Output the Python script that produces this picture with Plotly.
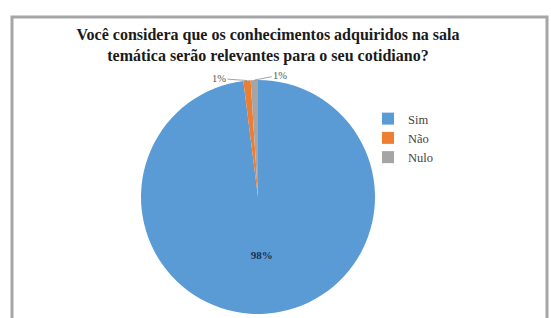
import math
import plotly.graph_objects as go

labels = ["Sim", "Não", "Nulo"]
values = [98, 1, 1]
colors = ["#5B9BD5", "#ED7D31", "#A5A5A5"]

W, H = 551, 318
SERIF = "Liberation Serif, Times New Roman, serif"

# pie geometry (pixels from top-left)
cx, cy, r = 258, 197, 117

fig = go.Figure(go.Pie(
    labels=labels,
    values=values,
    sort=False,
    direction="clockwise",
    rotation=0,
    marker=dict(colors=colors, line=dict(width=0)),
    texttemplate=["<b>%{percent:.0%}</b>", "", ""],
    textposition=["inside", "none", "none"],
    insidetextorientation="horizontal",
    insidetextfont=dict(family=SERIF, size=11, color="#1c2f4d"),
    domain=dict(x=[(cx - r) / W, (cx + r) / W], y=[(H - cy - r) / H, (H - cy + r) / H]),
    hoverinfo="label+percent",
))

# outside labels with leader lines for the small slices
total = sum(values)
cum = 0
offsets = {1: (-28, -2), 2: (26, -5)}
annotations = []
for i, v in enumerate(values):
    mid = (cum + v / 2) / total * 2 * math.pi
    cum += v
    if i in offsets:
        px = cx + r * math.sin(mid)
        py = cy - r * math.cos(mid)
        ax, ay = offsets[i]
        annotations.append(dict(
            x=px / W, y=1 - py / H, xref="paper", yref="paper",
            text=f"{round(v / total * 100)}%",
            showarrow=True, arrowhead=0, arrowwidth=0.8, arrowcolor="#8c8c8c",
            ax=ax, ay=ay, standoff=0,
            font=dict(family=SERIF, size=10.5, color="#555555"),
        ))

fig.update_layout(
    width=W, height=H,
    margin=dict(l=0, r=0, t=0, b=0),
    paper_bgcolor="white",
    plot_bgcolor="white",
    title=dict(
        text="<b>Você considera que os conhecimentos adquiridos na sala<br>temática serão relevantes para o seu cotidiano?</b>",
        x=268 / W, xanchor="center",
        y=1 - 40 / H, yanchor="middle",
        font=dict(family=SERIF, size=16, color="#1a1a1a"),
    ),
    legend=dict(
        x=368 / W, xanchor="left",
        y=1 - 104 / H, yanchor="top",
        font=dict(family=SERIF, size=12.5, color="#444444"),
        itemwidth=30,
        bgcolor="rgba(0,0,0,0)",
    ),
    annotations=annotations,
    shapes=[dict(
        type="rect", xref="paper", yref="paper",
        x0=12 / W, x1=547 / W, y0=-0.05, y1=1 - 17 / H,
        line=dict(color="#a6a6a6", width=3),
        layer="below",
    )],
)

fig.write_html(
    "out.html",
    config={"displayModeBar": False},
    post_script="document.body.style.margin='0px';document.body.style.padding='0px';",
)
